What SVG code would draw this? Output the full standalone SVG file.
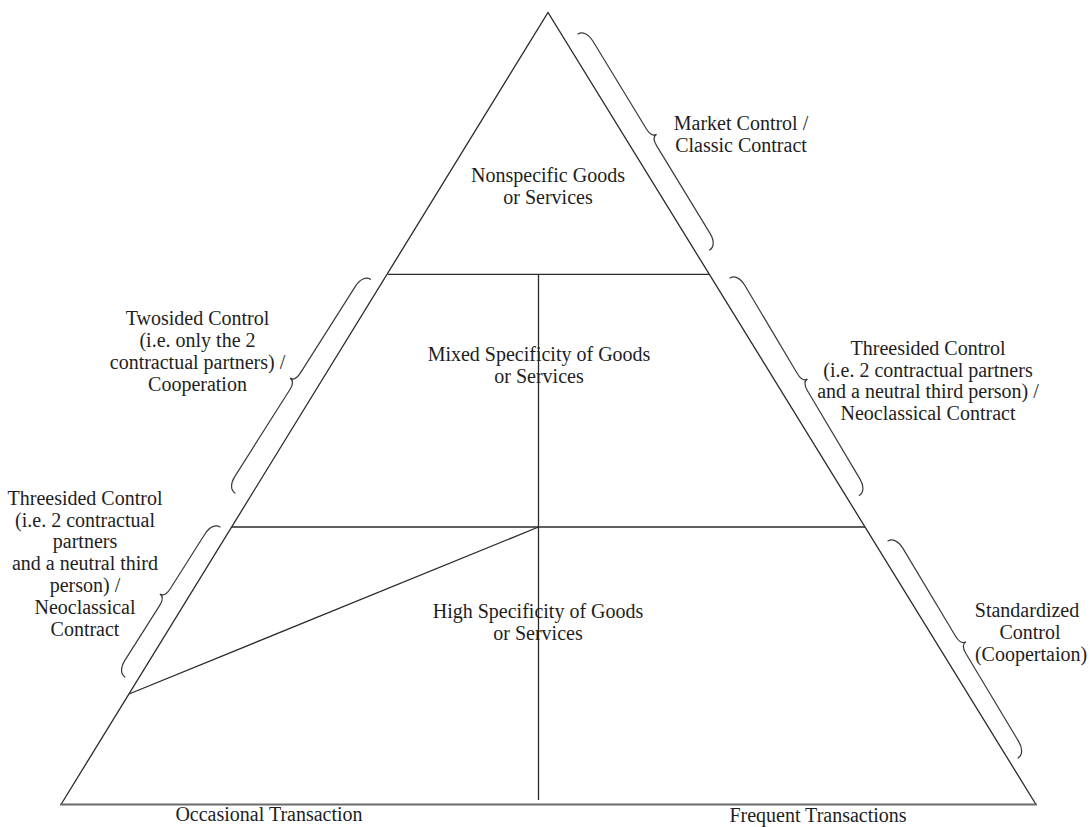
<svg xmlns="http://www.w3.org/2000/svg" xmlns:xlink="http://www.w3.org/1999/xlink" width="1092" height="827" viewBox="0 0 1092 827">
  <style>
    .edge { fill: none; stroke: #2a2a2a; stroke-width: 1.3; stroke-linejoin: miter; }
    .base { fill: none; stroke: #6a6a6a; stroke-width: 2.2; }
    .brace { fill: none; stroke: #3a3a3a; stroke-width: 1.2; stroke-linecap: round; }
    text { font-family: "Liberation Serif", "Times New Roman", serif; font-size: 20px; fill: #1e1e1e; text-anchor: middle; }
  </style>
  <defs>
    <!-- curly brace laid along the x axis, tip pointing toward -y -->
    <path id="braceLong" d="M0,0 C0,-5 5,-9 14,-9 L116.5,-9 C123.5,-9 126.5,-11 126.5,-15 C126.5,-11 129.5,-9 136.5,-9 L239,-9 C248,-9 253,-5 253,0"/>
    <path id="braceShort" d="M0,0 C0,-5 5,-9 14,-9 L78.8,-9 C85.8,-9 88.8,-11 88.8,-15 C88.8,-11 91.8,-9 98.8,-9 L163.6,-9 C172.6,-9 177.6,-5 177.6,0"/>
  </defs>

  <!-- pyramid outline and inner divisions -->
  <g id="pyramid">
    <path class="edge" d="M61,804.5 L548,12.5 L1036,804.5"/>
    <line class="base" x1="60" y1="804.5" x2="1037" y2="804.5"/>
  </g>

  <g id="connectors">
    <line class="edge" x1="388" y1="274.3" x2="709" y2="274.3"/>
    <line class="edge" x1="231.5" y1="527" x2="865" y2="527"/>
    <line class="edge" x1="538.5" y1="274.3" x2="538.5" y2="800" stroke-width="1.6"/>
    <line class="edge" x1="538.5" y1="527" x2="129" y2="694"/>
  </g>

  <!-- levels of the pyramid -->
  <g id="level-top">
    <text x="548" y="182">Nonspecific Goods</text>
    <text x="548" y="204">or Services</text>
  </g>
  <g id="level-middle">
    <text x="539" y="361">Mixed Specificity of Goods</text>
    <text x="539" y="383">or Services</text>
  </g>
  <g id="level-bottom">
    <text x="538" y="618">High Specificity of Goods</text>
    <text x="538" y="640">or Services</text>
  </g>

  <!-- control forms attached by braces -->
  <g id="market-control">
    <use xlink:href="#braceLong" class="brace" transform="translate(578,34) rotate(58.65)"/>
    <text x="741" y="130">Market Control /</text>
    <text x="741" y="152">Classic Contract</text>
  </g>
  <g id="twosided-control">
    <use xlink:href="#braceLong" class="brace" transform="translate(235,493) rotate(-57.63)"/>
    <text x="197.5" y="325">Twosided Control</text>
    <text x="197.5" y="347">(i.e. only the 2</text>
    <text x="197.5" y="369">contractual partners) /</text>
    <text x="197.5" y="391">Cooperation</text>
  </g>
  <g id="threesided-control-left">
    <use xlink:href="#braceShort" class="brace" transform="translate(125,677) rotate(-57.65)"/>
    <text x="85" y="505">Threesided Control</text>
    <text x="85" y="527">(i.e. 2 contractual</text>
    <text x="85" y="548">partners</text>
    <text x="85" y="570">and a neutral third</text>
    <text x="85" y="592">person) /</text>
    <text x="85" y="614">Neoclassical</text>
    <text x="85" y="636">Contract</text>
  </g>
  <g id="threesided-control-right">
    <use xlink:href="#braceLong" class="brace" transform="translate(730,278) rotate(59.27)"/>
    <text x="928" y="355">Threesided Control</text>
    <text x="928" y="377">(i.e. 2 contractual partners</text>
    <text x="928" y="398">and a neutral third person) /</text>
    <text x="928" y="420">Neoclassical Contract</text>
  </g>
  <g id="standardized-control">
    <use xlink:href="#braceLong" class="brace" transform="translate(888,541) rotate(59.07)"/>
    <text x="1027" y="617">Standardized</text>
    <text x="1030" y="639">Control</text>
    <text x="1031" y="661">(Coopertaion)</text>
  </g>

  <!-- transaction frequency along the base -->
  <g id="axis-labels">
    <text x="269" y="821">Occasional Transaction</text>
    <text x="818" y="822">Frequent Transactions</text>
  </g>
</svg>
